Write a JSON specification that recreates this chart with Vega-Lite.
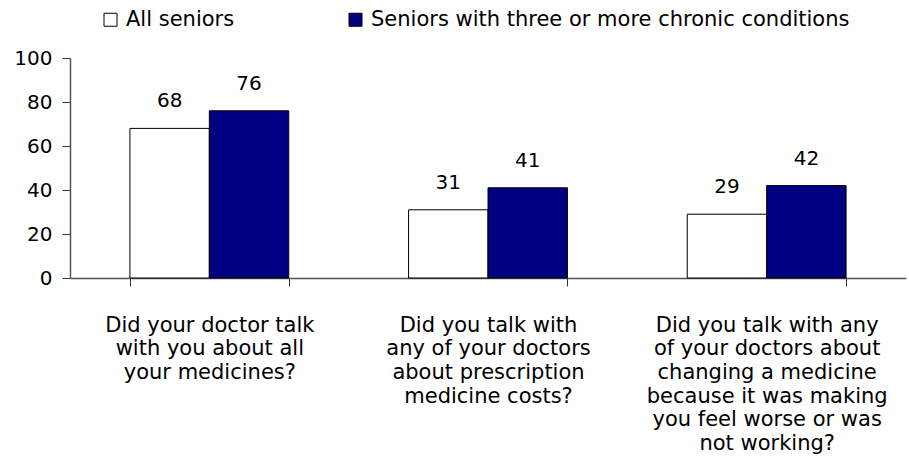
{
  "$schema": "https://vega.github.io/schema/vega-lite/v6.json",
  "width": 836,
  "height": 220,
  "autosize": {"type": "none"},
  "padding": {"left": 70, "top": 58, "right": 3, "bottom": 185},
  "background": "white",
  "config": {
    "view": {"stroke": null},
    "font": "DejaVu Sans",
    "axis": {"grid": false, "domainColor": "#555555", "tickColor": "#333333", "labelColor": "#000000", "labelFont": "DejaVu Sans", "labelFontSize": 20}
  },
  "data": {
    "values": [
      {"q": "Did your doctor talk|with you about all|your medicines?", "g": "All seniors", "v": 68},
      {"q": "Did your doctor talk|with you about all|your medicines?", "g": "Seniors with three or more chronic conditions", "v": 76},
      {"q": "Did you talk with|any of your doctors|about prescription|medicine costs?", "g": "All seniors", "v": 31},
      {"q": "Did you talk with|any of your doctors|about prescription|medicine costs?", "g": "Seniors with three or more chronic conditions", "v": 41},
      {"q": "Did you talk with any|of your doctors about|changing a medicine|because it was making|you feel worse or was|not working?", "g": "All seniors", "v": 29},
      {"q": "Did you talk with any|of your doctors about|changing a medicine|because it was making|you feel worse or was|not working?", "g": "Seniors with three or more chronic conditions", "v": 42}
    ]
  },
  "encoding": {
    "x": {
      "field": "q", "type": "nominal", "sort": null, "title": null,
      "scale": {"paddingInner": 0.43, "paddingOuter": 0.215},
      "axis": {"labelAngle": 0, "labelExpr": "split(datum.label, '|')", "labelFontSize": 21, "labelLineHeight": 23.7, "labelPadding": 28, "tickBand": "extent", "tickSize": 8, "labelLimit": 400, "domainWidth": 1.5}
    },
    "xOffset": {"field": "g", "type": "nominal", "sort": null},
    "y": {
      "field": "v", "type": "quantitative", "title": null,
      "scale": {"domain": [0, 100], "nice": false},
      "axis": {"values": [0, 20, 40, 60, 80, 100], "tickSize": 8, "labelPadding": 10, "domainWidth": 1.5}
    }
  },
  "layer": [
    {
      "mark": {"type": "bar", "stroke": "#000000", "strokeWidth": 1},
      "encoding": {
        "color": {
          "field": "g", "type": "nominal", "sort": null,
          "scale": {"domain": ["All seniors", "Seniors with three or more chronic conditions"], "range": ["#ffffff", "#000080"]},
          "legend": {
            "title": null, "orient": "none", "legendX": 30, "legendY": -49, "direction": "horizontal", "padding": 0,
            "symbolType": "square", "symbolSize": 169, "symbolStrokeColor": "#000000", "symbolStrokeWidth": 1,
            "labelFontSize": 21, "labelFont": "DejaVu Sans", "labelColor": "#000000", "columnPadding": 110, "labelOffset": 5, "labelLimit": 700
          }
        }
      }
    },
    {
      "mark": {"type": "text", "dy": -21, "fontSize": 20, "font": "DejaVu Sans", "color": "#000000", "baseline": "alphabetic"},
      "encoding": {"text": {"field": "v", "type": "quantitative"}}
    }
  ]
}
